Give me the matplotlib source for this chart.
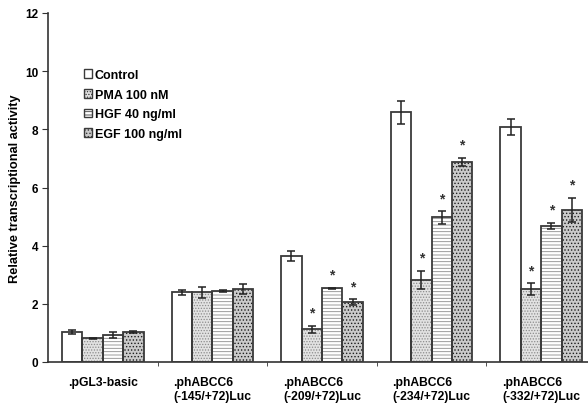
import numpy as np
import matplotlib
matplotlib.use("Agg")
from matplotlib import pyplot as plt
from matplotlib.patches import Patch

plt.rcParams['font.family'] = ['Liberation Sans', 'DejaVu Sans']
plt.rcParams['font.weight'] = 'bold'
plt.rcParams['hatch.linewidth'] = 0.6

# DATA ########################################################################

constructs = [".pGL3-basic",
              ".phABCC6\n(-145/+72)Luc",
              ".phABCC6\n(-209/+72)Luc",
              ".phABCC6\n(-234/+72)Luc",
              ".phABCC6\n(-332/+72)Luc"]

treatments = ["Control", "PMA 100 nM", "HGF 40 ng/ml", "EGF 100 ng/ml"]

control = [1.02, 2.39, 3.65, 8.58, 8.09]
pma = [0.82, 2.40, 1.12, 2.82, 2.51]
hgf = [0.94, 2.45, 2.53, 4.97, 4.68]
egf = [1.03, 2.52, 2.05, 6.88, 5.23]

control_err = [0.07, 0.09, 0.17, 0.38, 0.27]
pma_err = [0.02, 0.19, 0.13, 0.32, 0.20]
hgf_err = [0.10, 0.03, 0.02, 0.21, 0.10]
egf_err = [0.02, 0.17, 0.10, 0.14, 0.42]

# significant vs control
control_sig = [False, False, False, False, False]
pma_sig = [False, False, True, True, True]
hgf_sig = [False, False, True, True, True]
egf_sig = [False, False, True, True, True]

# STYLE #######################################################################

values = [control, pma, hgf, egf]
errors = [control_err, pma_err, hgf_err, egf_err]
sig_flags = [control_sig, pma_sig, hgf_sig, egf_sig]
faces = ['white', '#e2e2e2', 'white', '#cacaca']
hatches = [None, '......', '-----', '.....']
hatch_colors = ['white', '#8c8c8c', '#8c8c8c', '#1e1e1e']

edge = '#3a3a3a'
width = 0.186

# PLOT ########################################################################

fig = plt.figure(figsize=(5.88, 4.06), dpi=100)
ax = fig.add_axes([48 / 588, 43 / 406, 1 - 48 / 588, 349 / 406])

x = np.arange(len(constructs))
handles = []

for i in range(len(treatments)):
    vals, errs, flags = values[i], errors[i], sig_flags[i]
    pos = x + (i - 1.5) * width
    # hatch layer
    ax.bar(pos, vals, width, color=faces[i], edgecolor=hatch_colors[i],
           linewidth=0, hatch=hatches[i], zorder=2)
    # outline layer
    ax.bar(pos, vals, width, fill=False, edgecolor=edge, linewidth=1.3,
           zorder=3)
    ax.errorbar(pos, vals, yerr=errs, fmt='none', ecolor='#222222',
                elinewidth=1.1, capsize=3, capthick=1.1, zorder=4)
    for p, v, e, s in zip(pos, vals, errs, flags):
        if s:
            ax.text(p, v + e + 0.45, "*", ha='center', va='center',
                    fontsize=10, color='#333333', zorder=5)
    handles.append(Patch(facecolor=faces[i], edgecolor=edge,
                         hatch=hatches[i], linewidth=1.0))

# AXES ########################################################################

ax.set_xlim(-0.5, 4.5 - 8 / 109.6)
ax.set_ylim(0, 12)
ax.set_yticks(np.arange(0, 13, 2))
ax.set_yticklabels([str(v) for v in range(0, 13, 2)], fontsize=8.5,
                   fontweight='bold')
ax.set_xticks(x)
ax.set_xticklabels(constructs, fontsize=8.7, fontweight='bold',
                   multialignment='left')
ax.tick_params(axis='x', which='major', length=0, pad=10)
ax.set_xticks(x[:-1] + 0.5, minor=True)
ax.tick_params(axis='x', which='minor', length=3, direction='out',
               color='#333333')
ax.tick_params(axis='y', length=4, direction='out', color='#333333', pad=3)

for side in ['top', 'right']:
    ax.spines[side].set_visible(False)
for side in ['left', 'bottom']:
    ax.spines[side].set_linewidth(1.2)
    ax.spines[side].set_color('#333333')

ax.set_ylabel("Relative transcriptional activity", fontsize=9.2,
              fontweight='bold', labelpad=3)

leg = ax.legend(handles, treatments, loc='upper left',
                bbox_to_anchor=(0.066, 0.84), frameon=False, fontsize=9,
                handlelength=0.7, handleheight=0.7, handletextpad=0.2,
                labelspacing=0.62, borderpad=0, borderaxespad=0)
for t in leg.get_texts():
    t.set_fontweight('bold')

fig.savefig("out.png", dpi=100)
